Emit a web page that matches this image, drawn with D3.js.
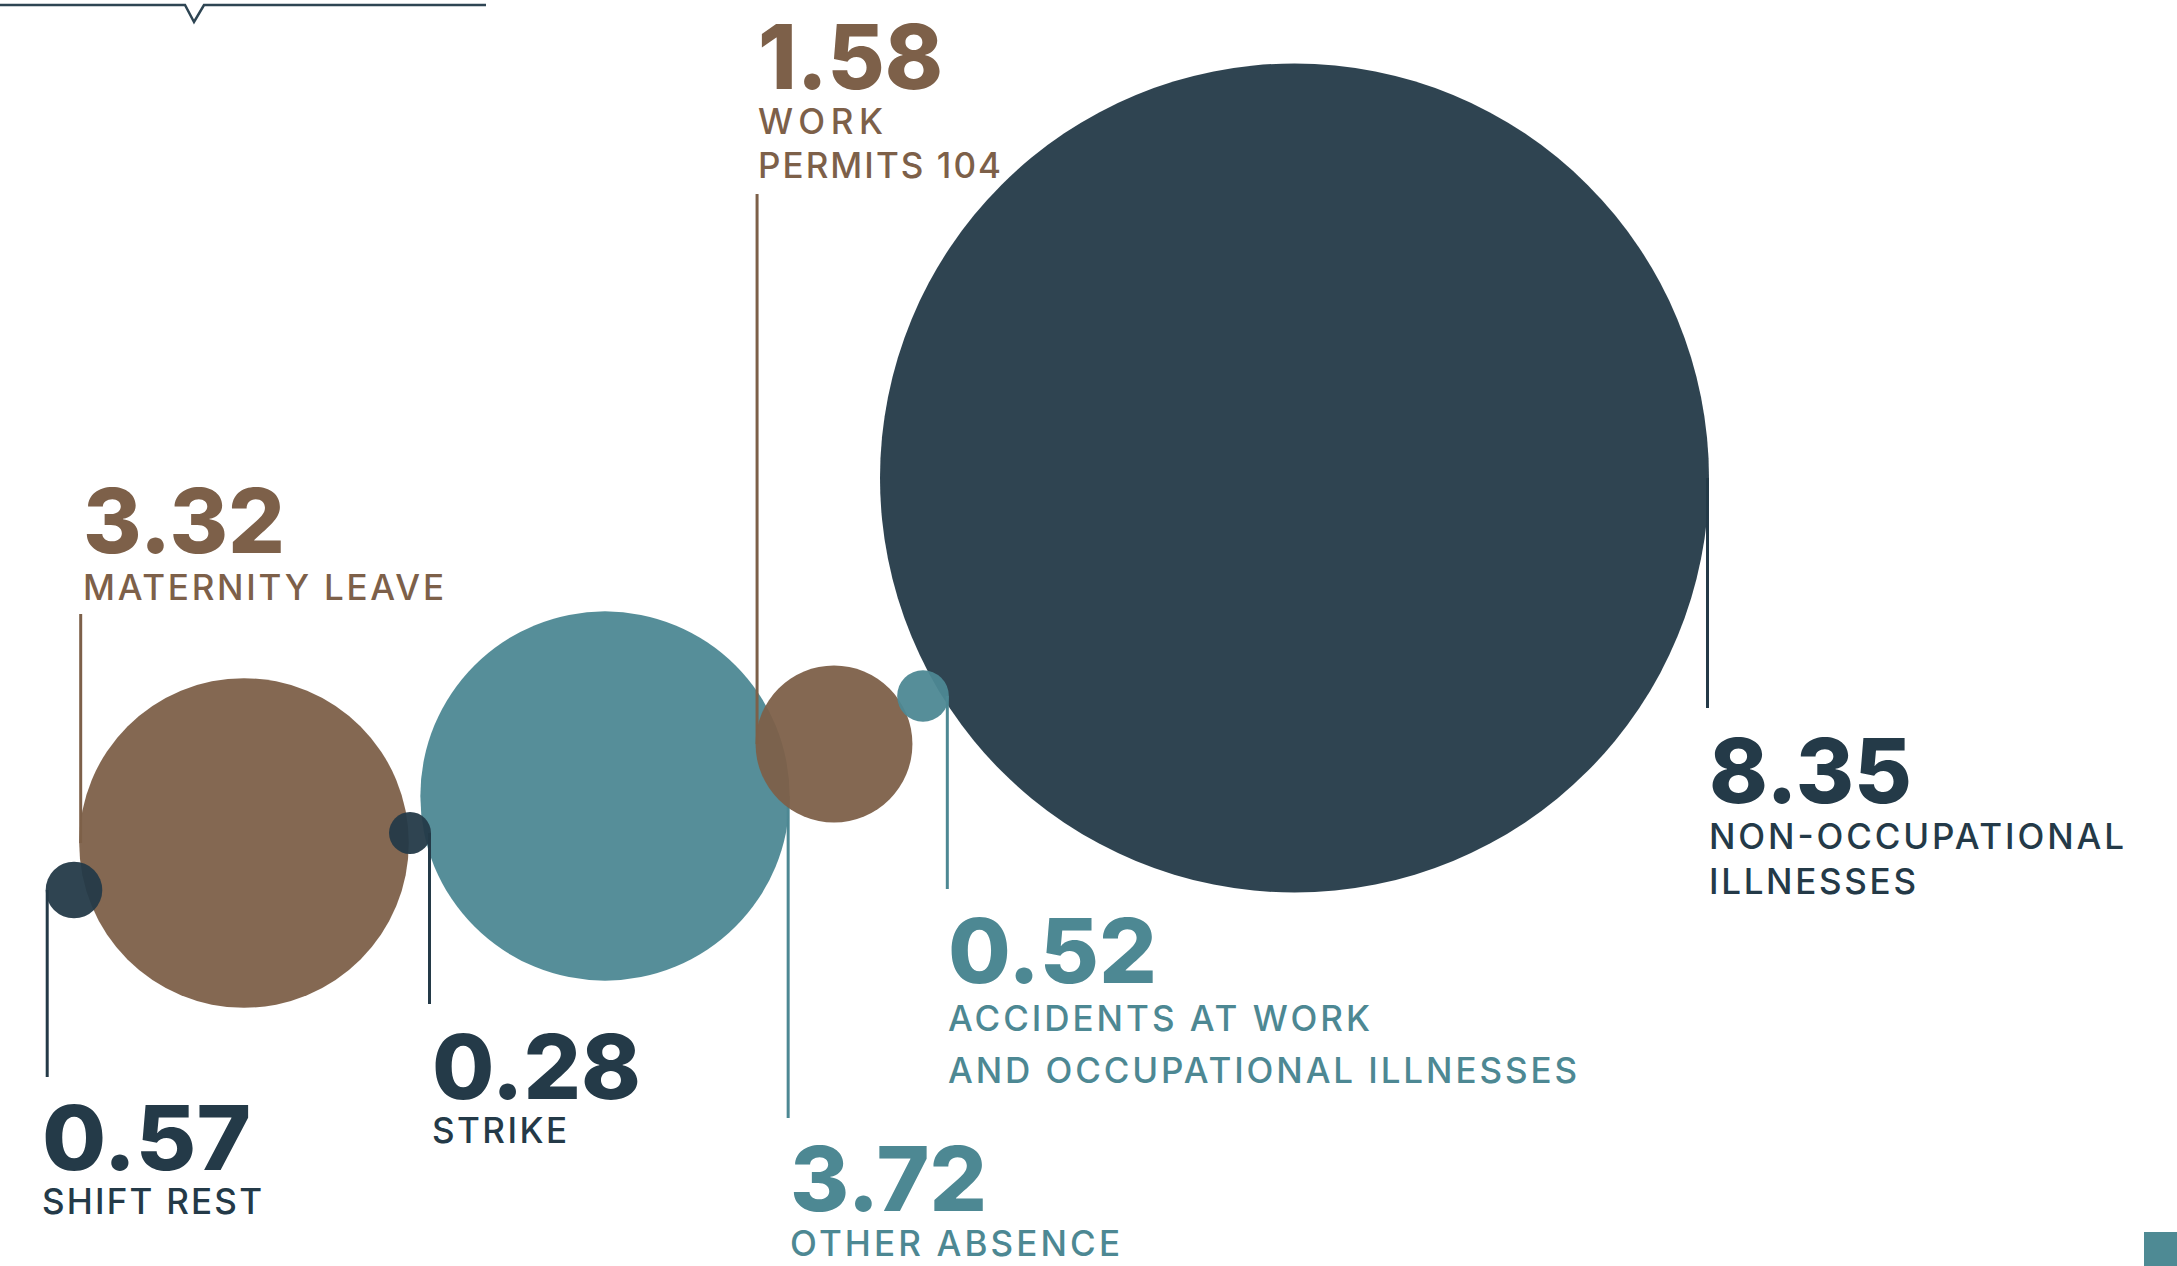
<!DOCTYPE html>
<html>
<head>
<meta charset="utf-8">
<script src="https://cdn.jsdelivr.net/npm/d3@7"></script>
<style>
  html, body { margin: 0; padding: 0; background: #ffffff; overflow: hidden; }
  svg { display: block; }
</style>
</head>
<body>
<script>
// ---------- data ----------
const categories = [
  "Non-occupational illnesses",
  "Other absence",
  "Maternity leave",
  "Work permits 104",
  "Shift rest",
  "Accidents at work and occupational illnesses",
  "Strike"
];
const values = [8.35, 3.72, 3.32, 1.58, 0.57, 0.52, 0.28];
const labelLines = [
  ["NON-OCCUPATIONAL", "ILLNESSES"],
  ["OTHER ABSENCE"],
  ["MATERNITY LEAVE"],
  ["WORK", "PERMITS 104"],
  ["SHIFT REST"],
  ["ACCIDENTS AT WORK", "AND OCCUPATIONAL ILLNESSES"],
  ["STRIKE"]
];
const groups = ["navy", "teal", "brown", "brown", "navy", "teal", "navy"];

// ---------- styles / layout ----------
const W = 2177, H = 1266;
const colors = { navy: "#243a48", teal: "#4d8893", brown: "#7d6049" };

const layout = [
  { cx: 1294.5, cy: 478, side: "right", lineEnd: 708,  lx: 1709, numY: 803,  lineYs: [849, 894],   numW: 203, lineWs: [415, 207] },
  { cx: 605,    cy: 796, side: "right", lineEnd: 1118, lx: 790,  numY: 1211, lineYs: [1256],       numW: 197, lineWs: [330] },
  { cx: 244,    cy: 843, side: "left",  lineEnd: 614,  lx: 83,   numY: 553,  lineYs: [600],        numW: 202, lineWs: [361] },
  { cx: 834,    cy: 744, side: "left",  lineEnd: 194,  lx: 758,  numY: 89,   lineYs: [134, 178],   numW: 185, lineWs: [125, 243] },
  { cx: 74,     cy: 890, side: "left",  lineEnd: 1077, lx: 42,   numY: 1170, lineYs: [1214],       numW: 209, lineWs: [220] },
  { cx: 923,    cy: 696, side: "right", lineEnd: 889,  lx: 948,  numY: 983,  lineYs: [1031, 1083], numW: 209, lineWs: [422, 629] },
  { cx: 410,    cy: 833, side: "right", lineEnd: 1004, lx: 432,  numY: 1099, lineYs: [1143],       numW: 209, lineWs: [135] }
];

const rScale = d3.scaleLinear().domain([0, d3.max(values)]).range([0, 414.5]);
const radius = v => Math.max(rScale(v), 21);
const fmt = d3.format(".2f");

const svg = d3.select("body").append("svg")
  .attr("width", W).attr("height", H)
  .attr("viewBox", `0 0 ${W} ${H}`);

svg.append("rect").attr("width", W).attr("height", H).attr("fill", "#ffffff");

// decorative top line with notch
svg.append("path")
  .attr("d", d3.line()([[0, 5], [185, 5], [194, 22], [204, 5], [486, 5]]))
  .attr("fill", "none")
  .attr("stroke", "#2e4553")
  .attr("stroke-width", 2.5);

// bottom-right square
svg.append("rect")
  .attr("x", 2144).attr("y", 1232).attr("width", 33).attr("height", 34)
  .attr("fill", "#4e8a94");

const data = categories.map((c, i) => ({
  name: c, value: values[i], lines: labelLines[i], group: groups[i], ...layout[i]
}));

// circles + leader lines (each leader drawn just before its circle)
const marks = svg.append("g");
data.forEach(d => {
  const r = radius(d.value);
  const lxEdge = d.side === "left" ? d.cx - r + 1.5 : d.cx + r - 1.5;
  marks.append("line")
    .attr("x1", lxEdge).attr("x2", lxEdge)
    .attr("y1", d.cy).attr("y2", d.lineEnd)
    .attr("stroke", colors[d.group])
    .attr("stroke-width", 3);
  marks.append("circle")
    .attr("cx", d.cx).attr("cy", d.cy).attr("r", r)
    .attr("fill", colors[d.group])
    .attr("fill-opacity", 0.95);
});

// labels
const labels = svg.append("g").attr("font-family", "Inter, 'Open Sans', sans-serif");
data.forEach(d => {
  labels.append("text")
    .attr("x", d.lx).attr("y", d.numY)
    .attr("font-size", 90).attr("font-weight", 800)
    .attr("fill", colors[d.group])
    .attr("textLength", d.numW)
    .attr("lengthAdjust", "spacingAndGlyphs")
    .text(fmt(d.value));
  d.lines.forEach((t, j) => {
    labels.append("text")
      .attr("x", d.lx).attr("y", d.lineYs[j])
      .attr("font-size", 35).attr("font-weight", 500)
      .attr("fill", colors[d.group])
      .attr("textLength", d.lineWs[j])
      .attr("lengthAdjust", "spacing")
      .text(t);
  });
});
</script>
</body>
</html>
